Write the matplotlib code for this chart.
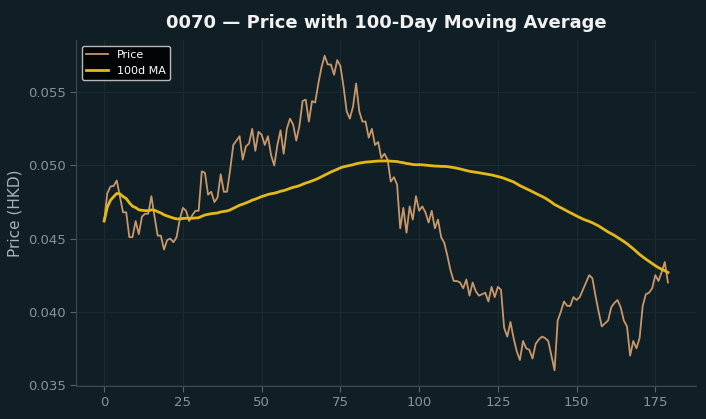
import matplotlib
matplotlib.use("Agg")
import matplotlib.pyplot as plt
import numpy as np
import pandas as pd

# daily closing prices (HKD)
price = [
    0.0462, 0.0481, 0.04856, 0.0486, 0.04897, 0.0479, 0.0468, 0.0468, 0.0451, 0.0451,
    0.0462, 0.0453, 0.0465, 0.0467, 0.0467, 0.0479, 0.0465, 0.0452, 0.0452, 0.04425,
    0.0449, 0.0450, 0.04475, 0.0451, 0.0463, 0.0471, 0.0469, 0.0462, 0.0466, 0.0469,
    0.0469, 0.0496, 0.0495, 0.0480, 0.0482, 0.0475, 0.0478, 0.0494, 0.0482, 0.0482,
    0.0497, 0.0514, 0.0517, 0.0520, 0.0504, 0.0513, 0.0515, 0.0525, 0.0510, 0.0523,
    0.0521, 0.0514, 0.0520, 0.0507, 0.0500, 0.0514, 0.0524, 0.0508, 0.0525, 0.0532,
    0.0528, 0.0517, 0.0527, 0.0544, 0.0545, 0.0530, 0.0544, 0.0543, 0.0556, 0.0567,
    0.0575, 0.0569, 0.0569, 0.0562, 0.0572, 0.0568, 0.0554, 0.0537, 0.0532, 0.0540,
    0.0556, 0.0537, 0.0530, 0.0530, 0.0519, 0.0525, 0.0514, 0.0516, 0.0505, 0.0508,
    0.0504, 0.0489, 0.0492, 0.0487, 0.0457, 0.0471, 0.0454, 0.0472, 0.0463, 0.0479,
    0.0469, 0.0472, 0.0468, 0.0461, 0.0469, 0.0457, 0.0463, 0.0451, 0.0447, 0.0438,
    0.0428, 0.0421, 0.0421, 0.0420, 0.0416, 0.0422, 0.0411, 0.0420, 0.0414, 0.0411,
    0.0412, 0.0413, 0.0407, 0.0417, 0.0410, 0.0417, 0.0415, 0.0389, 0.0383, 0.0393,
    0.0382, 0.0373, 0.0367, 0.0380, 0.0375, 0.0374, 0.0368, 0.0378, 0.0381, 0.0383,
    0.0382, 0.0380, 0.0370, 0.0360, 0.0394, 0.0400, 0.0407, 0.0404, 0.0404, 0.0410,
    0.0408, 0.0410, 0.0415, 0.0420, 0.0425, 0.0423, 0.0411, 0.0400, 0.0390, 0.0392,
    0.0394, 0.0403, 0.0406, 0.0408, 0.0403, 0.0394, 0.0390, 0.0370, 0.0380, 0.0375,
    0.0382, 0.0404, 0.0412, 0.0413, 0.0416, 0.0425, 0.0421, 0.0427, 0.0434, 0.0420,
]
ticker = "0070"
window = 100

df = pd.DataFrame({"price": price})
df["ma"] = df["price"].rolling(window, min_periods=1).mean()

bg = "#101f26"
fig = plt.figure(figsize=(7.06, 4.19), dpi=100, facecolor=bg)
ax = fig.add_axes([0.1076, 0.0788, 0.8784, 0.8257])
ax.set_facecolor(bg)

ax.plot(df.index, df["price"], color="#c8976a", lw=1.3, label="Price")
ax.plot(df.index, df["ma"], color="#e5b81a", lw=2.0, label=f"{window}d MA")

ax.set_title(f"{ticker} — Price with {window}-Day Moving Average",
             color="#f2f2f2", fontsize=13, fontweight="bold", pad=9)
ax.set_ylabel("Price (HKD)", color="#a9b1b6", fontsize=11)

ax.grid(True, color="#1c2b31", lw=0.8)
ax.set_axisbelow(True)
ax.tick_params(labelsize=9.5, length=4, colors="#55636a", labelcolor="#8a9298")
for s in ["top", "right"]:
    ax.spines[s].set_visible(False)
for s in ["left", "bottom"]:
    ax.spines[s].set_color("#3b4a50")

leg = ax.legend(loc="upper left", fontsize=8, facecolor="black",
                edgecolor="#d8d8d8", framealpha=0.85)
for t in leg.get_texts():
    t.set_color("white")

fig.savefig("out.png", dpi=100, facecolor=bg)
